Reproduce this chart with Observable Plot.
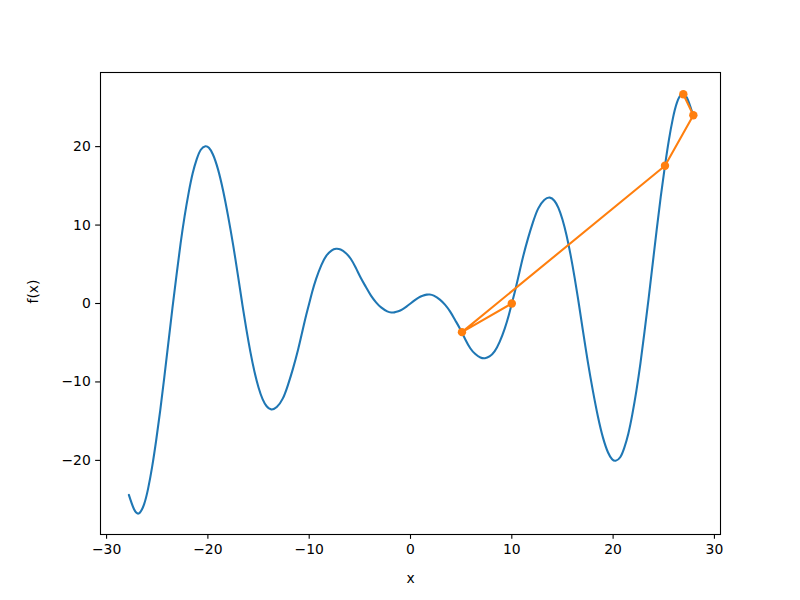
<!DOCTYPE html>
<html>
<head>
<meta charset="utf-8">
<script src="https://cdn.jsdelivr.net/npm/d3@7"></script>
<script src="https://cdn.jsdelivr.net/npm/@observablehq/plot@0.6"></script>
<style>
  html, body { margin: 0; padding: 0; background: white; }
  #chart { width: 800px; height: 600px; }
</style>
</head>
<body>
<div id="chart"></div>
<script>
// Blue curve f(x) (the drawn function is odd-symmetric)
const curveX = [-27.8, -27.3, -26.8, -26.3, -25.9, -25.5, -25.1, -24.7, -24.3, -23.9,
  -23.5, -23.1, -22.7, -22.3, -21.9, -21.5, -21.1, -20.7, -20.25, -19.9,
  -19.5, -19.0, -18.5, -18.0, -17.5, -17.0, -16.6, -16.2, -15.8, -15.4,
  -15.0, -14.6, -14.2, -13.75, -13.2, -12.6, -12.1, -11.6, -11.1, -10.7,
  -10.3, -10.0, -9.7, -9.3, -8.8, -8.3, -7.8, -7.35, -6.9, -6.4,
  -5.9, -5.4, -4.9, -4.4, -3.9, -3.4, -2.9, -2.3, -1.9, -1.6,
  -1.2, -0.8, -0.4, 0.0, 0.4, 0.8, 1.2, 1.6, 1.9, 2.3,
  2.9, 3.4, 3.9, 4.4, 4.9, 5.4, 5.9, 6.4, 6.9, 7.35,
  7.8, 8.3, 8.8, 9.3, 9.7, 10.0, 10.3, 10.7, 11.1, 11.6,
  12.1, 12.6, 13.2, 13.75, 14.2, 14.6, 15.0, 15.4, 15.8, 16.2,
  16.6, 17.0, 17.5, 18.0, 18.5, 19.0, 19.5, 19.9, 20.25, 20.7,
  21.1, 21.5, 21.9, 22.3, 22.7, 23.1, 23.5, 23.9, 24.3, 24.7,
  25.1, 25.5, 25.9, 26.3, 26.8, 27.3, 27.8];
const curveY = [-24.4, -26.2, -26.75, -25.6, -23.6, -20.8, -17.4, -13.6, -9.4, -5.0,
  -0.6, 3.6, 7.6, 11.1, 14.1, 16.6, 18.4, 19.6, 20.05, 19.85,
  19.0, 17.1, 14.4, 11.1, 7.4, 3.3, -0.1, -3.3, -6.2, -8.7,
  -10.7, -12.2, -13.1, -13.5, -13.2, -12.1, -10.4, -8.3, -5.9, -3.7,
  -1.5, 0.0, 1.5, 3.2, 4.9, 6.1, 6.75, 6.97, 6.88, 6.45,
  5.7, 4.55, 3.25, 2.1, 1.0, 0.15, -0.5, -1.0, -1.15, -1.13,
  -1.0, -0.75, -0.4, 0.0, 0.4, 0.75, 1.0, 1.13, 1.15, 1.0,
  0.5, -0.15, -1.0, -2.1, -3.25, -4.55, -5.7, -6.45, -6.88, -6.97,
  -6.75, -6.1, -4.9, -3.2, -1.5, 0.0, 1.5, 3.7, 5.9, 8.3,
  10.4, 12.1, 13.2, 13.5, 13.1, 12.2, 10.7, 8.7, 6.2, 3.3,
  0.1, -3.3, -7.4, -11.1, -14.4, -17.1, -19.0, -19.85, -20.05, -19.6,
  -18.4, -16.6, -14.1, -11.1, -7.6, -3.6, 0.6, 5.0, 9.4, 13.6,
  17.4, 20.8, 23.6, 25.6, 26.75, 26.2, 24.4];

// Orange path (search iterates), in drawing order
const optX = [10.0, 5.08, 25.12, 27.92, 26.93];
const optY = [0.0, -3.65, 17.56, 24.0, 26.68];

const xTicks = [-30, -20, -10, 0, 10, 20, 30];
const yTicks = [-20, -10, 0, 10, 20];

const curve = curveX.map((x, i) => ({x, y: curveY[i]}));
const opt = optX.map((x, i) => ({x, y: optY[i]}));

const tick = 4.86;
const chart = Plot.plot({
  width: 800,
  height: 600,
  marginLeft: 100,
  marginRight: 80,
  marginTop: 72,
  marginBottom: 66,
  style: {fontFamily: "DejaVu Sans", fontSize: "13.9px", background: "white", color: "black"},
  x: {domain: [-30.6, 30.6], label: null},
  y: {domain: [-29.45, 29.45], label: null},
  marks: [
    Plot.line(curve, {x: "x", y: "y", stroke: "#1f77b4", strokeWidth: 2.08, curve: "natural"}),
    Plot.line(opt, {x: "x", y: "y", stroke: "#ff7f0e", strokeWidth: 2.08}),
    Plot.dot(opt, {x: "x", y: "y", fill: "#ff7f0e", r: 4.2, stroke: "none"}),
    Plot.frame({stroke: "black", strokeWidth: 1.1}),
    Plot.axisX(xTicks, {tickSize: tick, tickPadding: tick, strokeWidth: 1.1, label: null, fontSize: 13.9}),
    Plot.axisY(yTicks, {tickSize: tick, tickPadding: tick, strokeWidth: 1.1, label: null, fontSize: 13.9}),
    Plot.text(["x"], {frameAnchor: "bottom", dy: 48, fontSize: 13.9}),
    Plot.text(["f(x)"], {frameAnchor: "left", dx: -67, rotate: -90, fontSize: 13.9})
  ]
});
document.getElementById("chart").appendChild(chart);
</script>
</body>
</html>
